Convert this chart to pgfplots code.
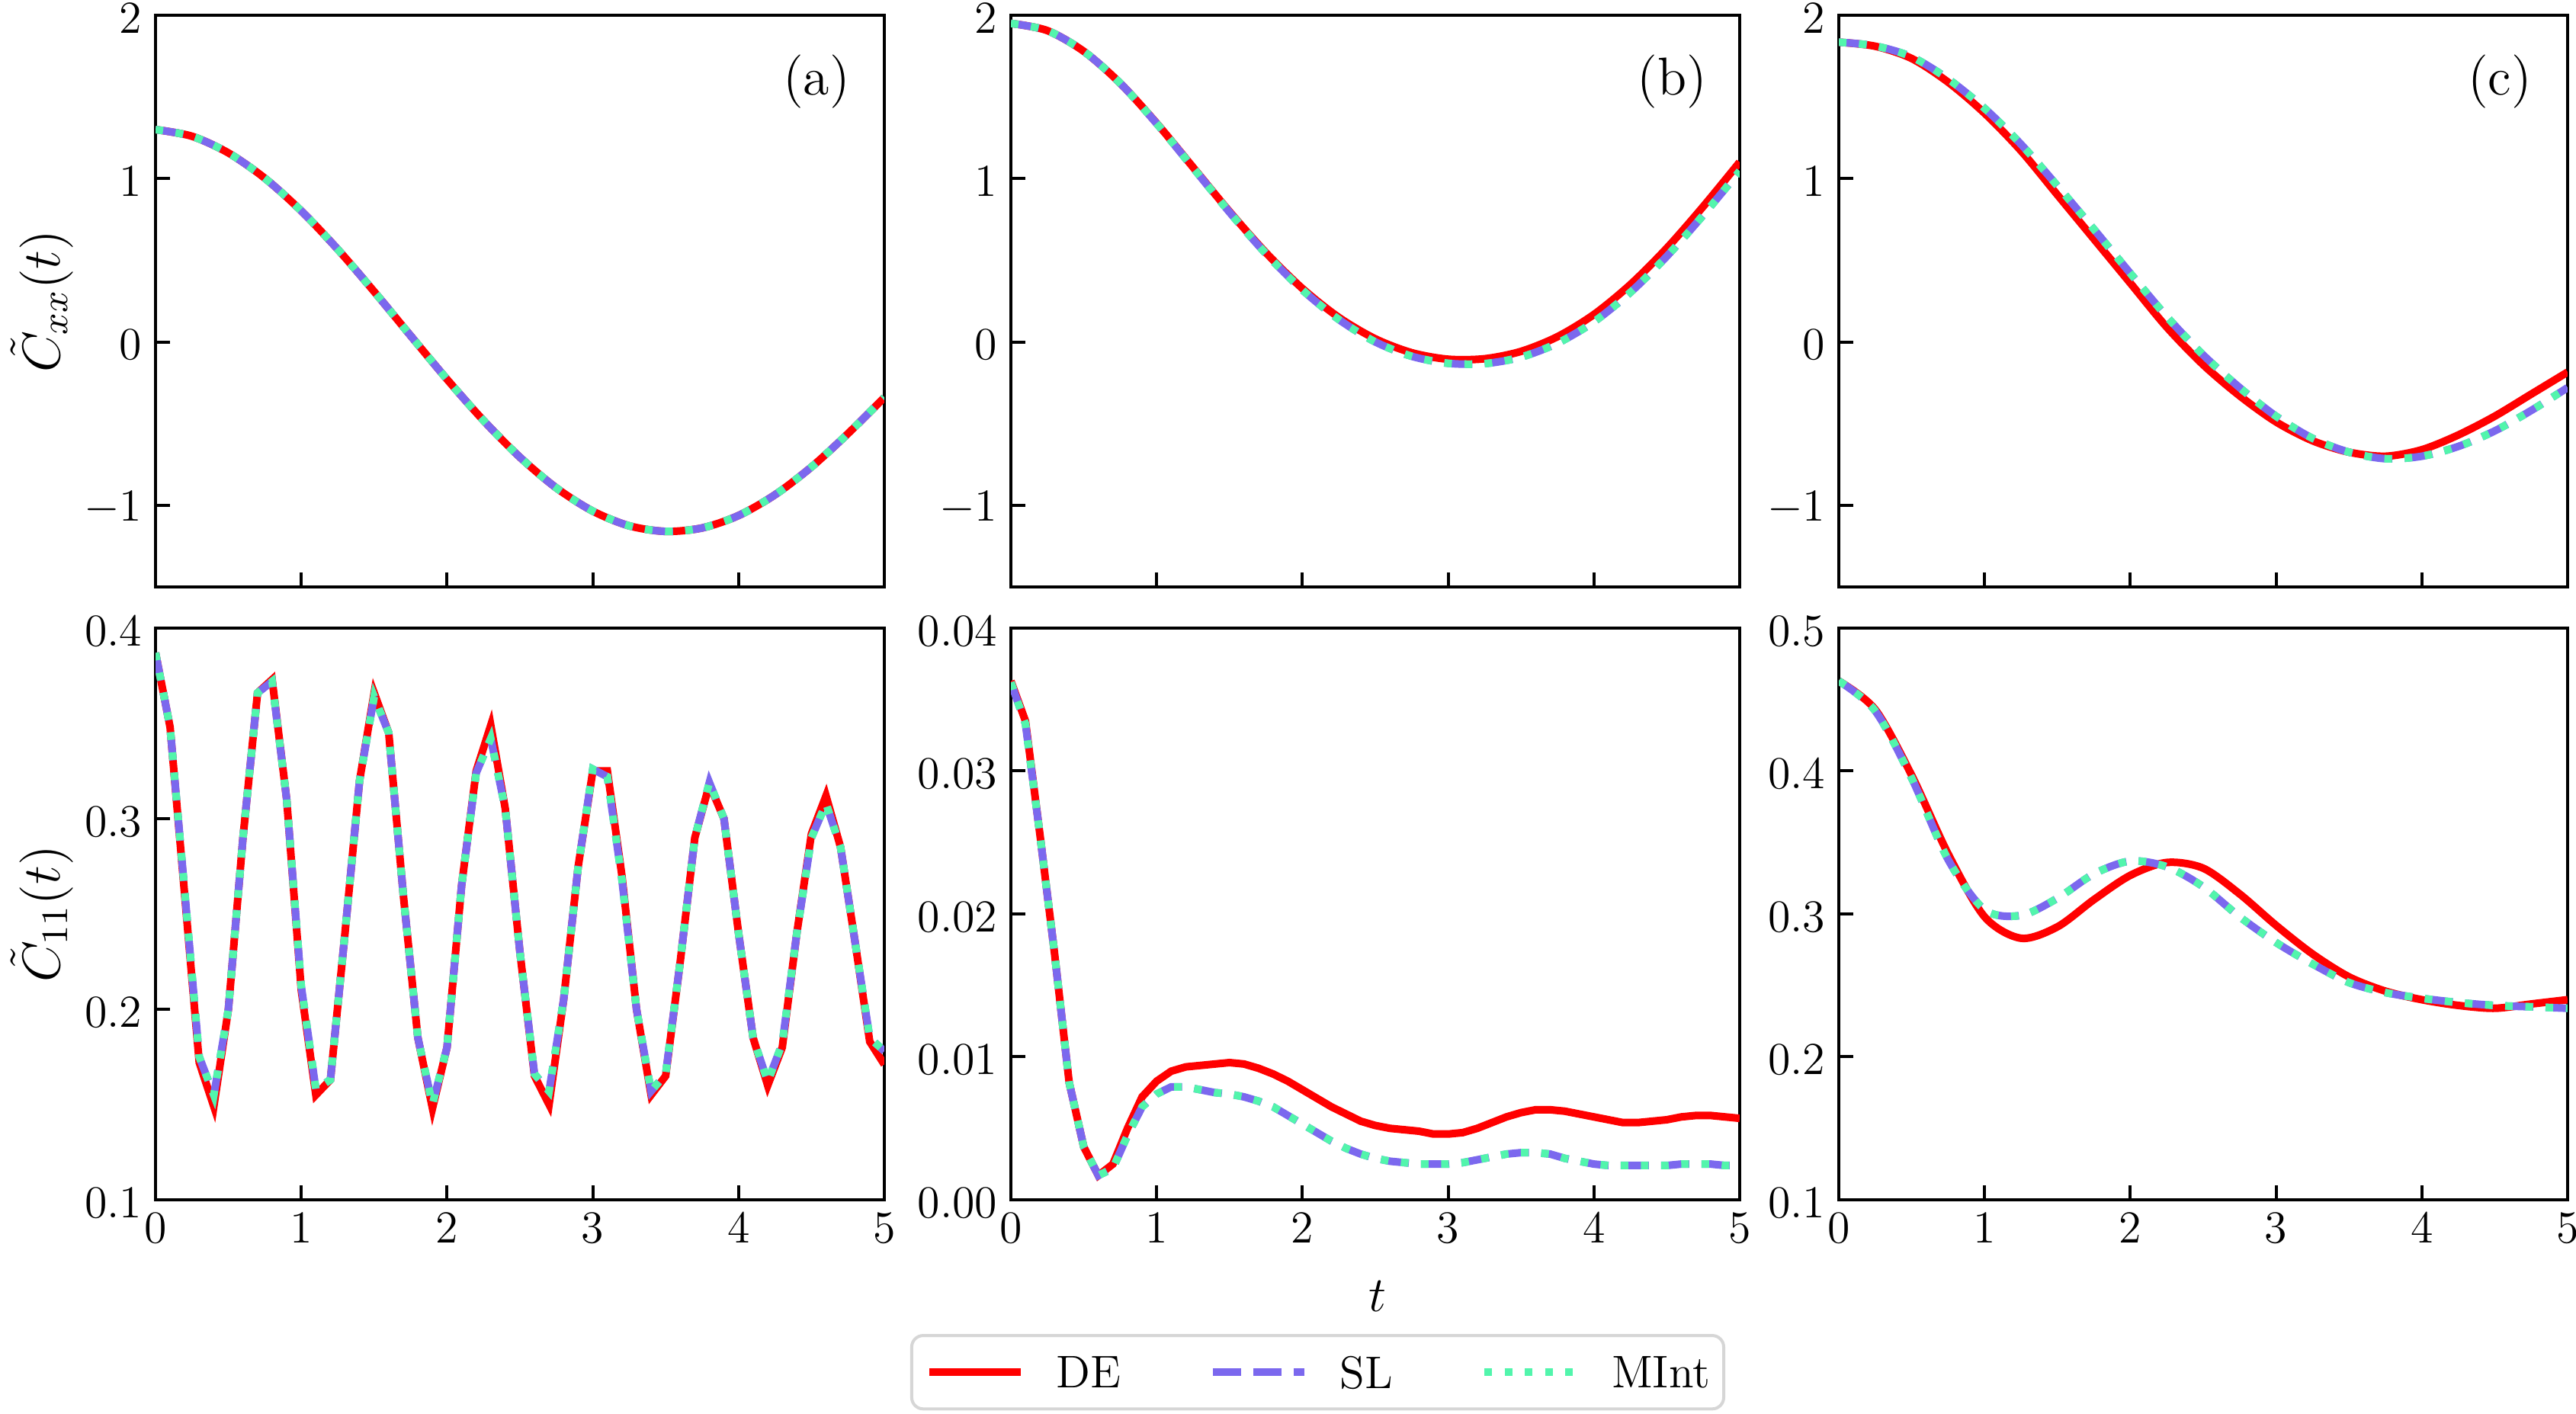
\RequirePackage{fix-cm}
\documentclass[border=0pt]{standalone}
\usepackage{pgfplots}
\pgfplotsset{compat=1.18}
\definecolor{deC}{RGB}{255,0,0}
\definecolor{slC}{RGB}{123,104,238}
\definecolor{miC}{RGB}{82,245,172}

\pgfplotstableread{
t v
0 1.300
0.25 1.259
0.5 1.157
0.75 1.002
1.0 0.802
1.25 0.567
1.5 0.308
1.75 0.038
2.0 -0.229
2.25 -0.481
2.5 -0.706
2.75 -0.894
3.0 -1.036
3.25 -1.126
3.5 -1.160
3.75 -1.139
4.0 -1.063
4.25 -0.936
4.5 -0.766
4.75 -0.562
5.0 -0.340
}\topA

\pgfplotstableread{
t v
0 1.950
0.25 1.906
0.5 1.779
0.75 1.584
1.0 1.339
1.25 1.069
1.5 0.798
1.75 0.546
2.0 0.327
2.25 0.150
2.5 0.019
2.75 -0.066
3.0 -0.106
3.25 -0.103
3.5 -0.058
3.75 0.032
4.0 0.168
4.25 0.351
4.5 0.574
4.75 0.829
5.0 1.101
}\topBde

\pgfplotstableread{
t v
0 1.950
0.25 1.906
0.5 1.779
0.75 1.584
1.0 1.337
1.25 1.066
1.5 0.794
1.75 0.540
2.0 0.318
2.25 0.137
2.5 0.000
2.75 -0.088
3.0 -0.131
3.25 -0.133
3.5 -0.093
3.75 -0.008
4.0 0.123
4.25 0.303
4.5 0.524
4.75 0.776
5.0 1.046
}\topBsl

\pgfplotstableread{
t v
0 1.835
0.25 1.810
0.5 1.735
0.75 1.590
1.0 1.400
1.25 1.170
1.5 0.900
1.75 0.630
2.0 0.360
2.25 0.090
2.5 -0.140
2.75 -0.330
3.0 -0.490
3.25 -0.605
3.5 -0.675
3.75 -0.700
4.0 -0.660
4.25 -0.570
4.5 -0.455
4.75 -0.320
5.0 -0.185
}\topCde

\pgfplotstableread{
t v
0 1.835
0.25 1.812
0.5 1.745
0.75 1.610
1.0 1.430
1.25 1.210
1.5 0.955
1.75 0.690
2.0 0.420
2.25 0.155
2.5 -0.080
2.75 -0.280
3.0 -0.455
3.25 -0.590
3.5 -0.675
3.75 -0.715
4.0 -0.700
4.25 -0.640
4.5 -0.545
4.75 -0.420
5.0 -0.280
}\topCsl

\pgfplotstableread{
t v
0.0 0.387
0.1 0.348
0.2 0.260
0.3 0.172
0.4 0.149
0.5 0.200
0.6 0.290
0.7 0.366
0.8 0.373
0.9 0.310
1.0 0.210
1.1 0.155
1.2 0.163
1.3 0.240
1.4 0.320
1.5 0.366
1.6 0.345
1.7 0.260
1.8 0.185
1.9 0.148
2.0 0.180
2.1 0.265
2.2 0.325
2.3 0.349
2.4 0.305
2.5 0.230
2.6 0.165
2.7 0.150
2.8 0.205
2.9 0.275
3.0 0.325
3.1 0.325
3.2 0.270
3.3 0.200
3.4 0.155
3.5 0.165
3.6 0.225
3.7 0.290
3.8 0.318
3.9 0.300
4.0 0.240
4.1 0.185
4.2 0.160
4.3 0.180
4.4 0.240
4.5 0.292
4.6 0.312
4.7 0.285
4.8 0.235
4.9 0.183
5.0 0.171
}\botAde

\pgfplotstableread{
t v
0.0 0.387
0.1 0.348
0.2 0.262
0.3 0.175
0.4 0.155
0.5 0.200
0.6 0.290
0.7 0.366
0.8 0.372
0.9 0.310
1.0 0.212
1.1 0.158
1.2 0.163
1.3 0.240
1.4 0.320
1.5 0.364
1.6 0.345
1.7 0.260
1.8 0.185
1.9 0.150
2.0 0.180
2.1 0.265
2.2 0.324
2.3 0.342
2.4 0.305
2.5 0.230
2.6 0.166
2.7 0.157
2.8 0.205
2.9 0.275
3.0 0.326
3.1 0.322
3.2 0.268
3.3 0.200
3.4 0.157
3.5 0.166
3.6 0.225
3.7 0.290
3.8 0.319
3.9 0.300
4.0 0.240
4.1 0.185
4.2 0.162
4.3 0.182
4.4 0.240
4.5 0.290
4.6 0.308
4.7 0.285
4.8 0.235
4.9 0.185
5.0 0.178
}\botAsl

\pgfplotstableread{
t v
0.0 0.0363
0.1 0.0335
0.2 0.0255
0.3 0.0172
0.4 0.0082
0.5 0.0037
0.6 0.0017
0.7 0.0025
0.8 0.0050
0.9 0.0072
1.0 0.0083
1.1 0.0090
1.2 0.0093
1.3 0.0094
1.4 0.0095
1.5 0.0096
1.6 0.0095
1.7 0.0092
1.8 0.0088
1.9 0.0083
2.0 0.0077
2.1 0.0071
2.2 0.0065
2.3 0.0060
2.4 0.0055
2.5 0.0052
2.6 0.0050
2.7 0.0049
2.8 0.0048
2.9 0.0046
3.0 0.0046
3.1 0.0047
3.2 0.0050
3.3 0.0054
3.4 0.0058
3.5 0.0061
3.6 0.0063
3.7 0.0063
3.8 0.0062
3.9 0.0060
4.0 0.0058
4.1 0.0056
4.2 0.0054
4.3 0.0054
4.4 0.0055
4.5 0.0056
4.6 0.0058
4.7 0.0059
4.8 0.0059
4.9 0.0058
5.0 0.0057
}\botBde

\pgfplotstableread{
t v
0.0 0.0362
0.1 0.0333
0.2 0.0255
0.3 0.0172
0.4 0.0082
0.5 0.0037
0.6 0.0017
0.7 0.0022
0.8 0.0045
0.9 0.0065
1.0 0.0074
1.1 0.0079
1.2 0.0079
1.3 0.0077
1.4 0.0075
1.5 0.0074
1.6 0.0072
1.7 0.0069
1.8 0.0065
1.9 0.0059
2.0 0.0053
2.1 0.0047
2.2 0.0041
2.3 0.0036
2.4 0.0032
2.5 0.0029
2.6 0.0027
2.7 0.0026
2.8 0.0025
2.9 0.0025
3.0 0.0025
3.1 0.0026
3.2 0.0028
3.3 0.0030
3.4 0.0032
3.5 0.0033
3.6 0.0033
3.7 0.0032
3.8 0.0029
3.9 0.0027
4.0 0.0025
4.1 0.0024
4.2 0.0024
4.3 0.0024
4.4 0.0024
4.5 0.0024
4.6 0.0025
4.7 0.0025
4.8 0.0025
4.9 0.0024
5.0 0.0024
}\botBsl

\pgfplotstableread{
t v
0 0.463
0.25 0.443
0.5 0.397
0.75 0.342
1.0 0.298
1.25 0.283
1.5 0.291
1.75 0.310
2.0 0.327
2.25 0.336
2.5 0.332
2.75 0.314
3.0 0.292
3.25 0.272
3.5 0.256
3.75 0.246
4.0 0.240
4.25 0.236
4.5 0.234
4.75 0.237
5.0 0.240
}\botCde

\pgfplotstableread{
t v
0 0.463
0.25 0.442
0.5 0.395
0.75 0.338
1.0 0.303
1.25 0.299
1.5 0.311
1.75 0.328
2.0 0.337
2.25 0.333
2.5 0.319
2.75 0.298
3.0 0.280
3.25 0.265
3.5 0.252
3.75 0.245
4.0 0.241
4.25 0.238
4.5 0.236
4.75 0.235
5.0 0.234
}\botCsl

\pgfplotsset{
  panel/.style={
    scale only axis, width=191.2pt, height=150pt,
    xmin=0, xmax=5, xtick={0,1,2,3,4,5},
    enlargelimits=false,
    axis line style={line width=0.8pt},
    tick style={line width=0.8pt, black},
    major tick length=3.8pt,
    xtick pos=left, ytick pos=left,
    tick align=inside,
    tick label style={font=\fontsize{12}{14}\selectfont},
    yticklabel style={yshift=-0.8pt},
    every axis y label/.style={at={(axis description cs:-0.156,0.5)}, rotate=90, anchor=center, font=\fontsize{14}{16}\selectfont},
    scaled y ticks=false,
  },
  toprow/.style={ymin=-1.5, ymax=2, ytick={-1,0,1,2}, xticklabels={}},
  de/.style={color=deC, line width=2pt, no marks},
  sl/.style={color=slC, line width=2pt, dash pattern=on 7.4pt off 3.2pt, no marks},
  mi/.style={color=miC, line width=2pt, dash pattern=on 2pt off 3.3pt, no marks},
}
\newcommand{\plab}[1]{\node[font=\fontsize{14}{16}\selectfont] at (axis description cs:0.907,0.884) {#1};}

\begin{document}
\begin{tikzpicture}
\path[use as bounding box] (0pt,0pt) rectangle (675.8pt,-371pt);

% top row
\begin{axis}[panel, toprow, at={(40.8pt,-4pt)}, anchor=north west, ylabel={$\tilde{C}_{xx}(t)$}]
\addplot[de, smooth] table[x=t,y=v] {\topA};
\addplot[sl, smooth] table[x=t,y=v] {\topA};
\addplot[mi, smooth] table[x=t,y=v] {\topA};
\plab{(a)}
\end{axis}

\begin{axis}[panel, toprow, at={(265.2pt,-4pt)}, anchor=north west]
\addplot[de, smooth] table[x=t,y=v] {\topBde};
\addplot[sl, smooth] table[x=t,y=v] {\topBsl};
\addplot[mi, smooth] table[x=t,y=v] {\topBsl};
\plab{(b)}
\end{axis}

\begin{axis}[panel, toprow, at={(482.4pt,-4pt)}, anchor=north west]
\addplot[de, smooth] table[x=t,y=v] {\topCde};
\addplot[sl, smooth] table[x=t,y=v] {\topCsl};
\addplot[mi, smooth] table[x=t,y=v] {\topCsl};
\plab{(c)}
\end{axis}

% bottom row
\begin{axis}[panel, at={(40.8pt,-164.8pt)}, anchor=north west,
  ymin=0.1, ymax=0.4, ytick={0.1,0.2,0.3,0.4},
  yticklabel style={/pgf/number format/.cd, fixed, fixed zerofill, precision=1},
  ylabel={$\tilde{C}_{11}(t)$}]
\addplot[de] table[x=t,y=v] {\botAde};
\addplot[sl] table[x=t,y=v] {\botAsl};
\addplot[mi] table[x=t,y=v] {\botAsl};
\end{axis}

\begin{axis}[panel, at={(265.2pt,-164.8pt)}, anchor=north west,
  ymin=0, ymax=0.04, ytick={0,0.01,0.02,0.03,0.04},
  yticklabel style={/pgf/number format/.cd, fixed, fixed zerofill, precision=2},
  xlabel={$t$},
  every axis x label/.style={at={(axis description cs:0.503,-0.169)}, anchor=center, font=\fontsize{13}{15}\selectfont},
  legend columns=3,
  legend image code/.code={\draw[#1] (0pt,0pt) -- (24pt,0pt);},
  legend style={at={(axis description cs:0.421,-0.3016)}, anchor=center,
    draw=black!16, line width=0.8pt, rounded corners=3pt,
    font=\fontsize{12}{14}\selectfont,
    inner xsep=3.6pt, inner ysep=5.4pt,
    nodes={inner sep=0pt, text depth=0pt},
    /tikz/every odd column/.append style={column sep=8.4pt},
    /tikz/every even column/.append style={column sep=23pt}}]
\addplot[de] table[x=t,y=v] {\botBde};
\addlegendentry{DE}
\addplot[sl] table[x=t,y=v] {\botBsl};
\addlegendentry{SL}
\addplot[mi] table[x=t,y=v] {\botBsl};
\addlegendentry{MInt}
\end{axis}

\begin{axis}[panel, at={(482.4pt,-164.8pt)}, anchor=north west,
  ymin=0.1, ymax=0.5, ytick={0.1,0.2,0.3,0.4,0.5},
  yticklabel style={/pgf/number format/.cd, fixed, fixed zerofill, precision=1}]
\addplot[de, smooth] table[x=t,y=v] {\botCde};
\addplot[sl, smooth] table[x=t,y=v] {\botCsl};
\addplot[mi, smooth] table[x=t,y=v] {\botCsl};
\end{axis}
\end{tikzpicture}
\end{document}
